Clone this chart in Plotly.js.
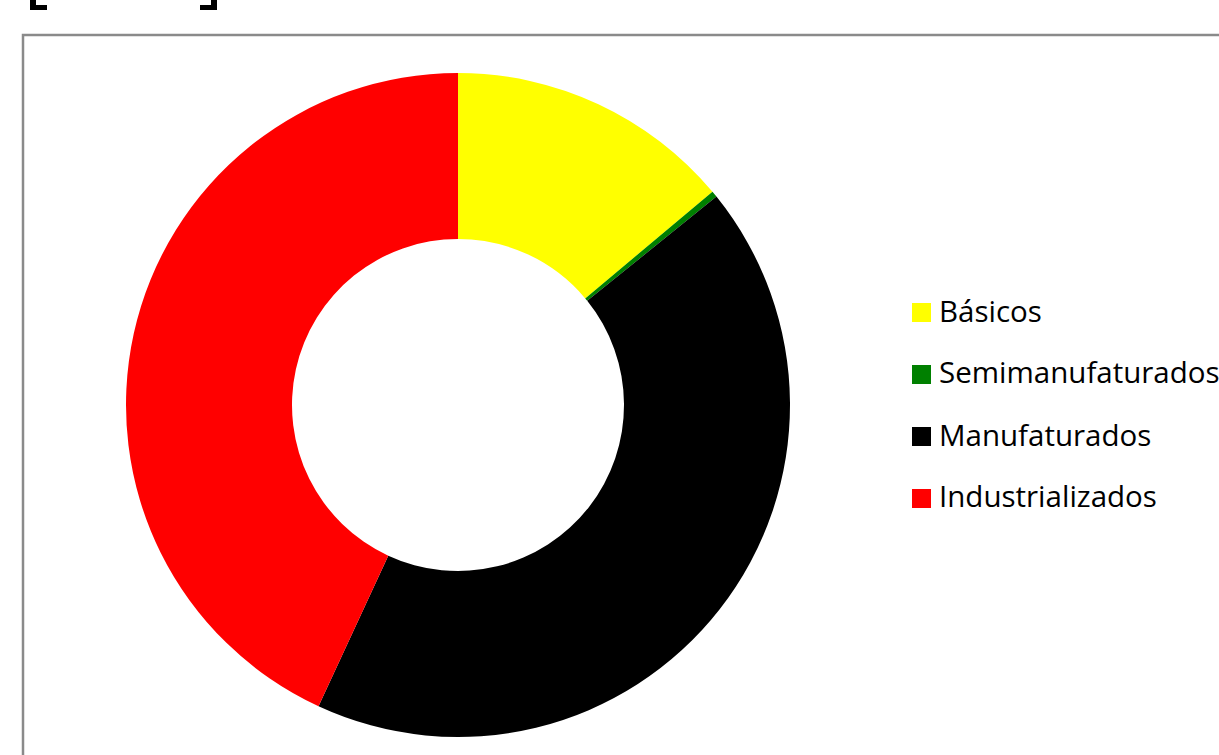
<!DOCTYPE html>
<html>
<head>
<meta charset="utf-8">
<script src="https://cdn.plot.ly/plotly-3.0.1.min.js"></script>
<style>html,body{margin:0;padding:0;background:#fff;}#chart{width:1219px;height:755px;}</style>
</head>
<body>
<div id="chart"></div>
<script>
const categories = ["Básicos", "Semimanufaturados", "Manufaturados", "Industrializados"];
const values = [13.9, 0.3, 42.7, 43.1];
const colors = ["#FFFF00", "#008000", "#000000", "#FF0000"];

const W = 1219, H = 755;
const px = x => x / W;
const py = y => 1 - y / H;

const legendTop = 312, legendStep = 62;
const annotations = categories.map((c, i) => ({
  text: c, xref: "paper", yref: "paper",
  x: px(937), y: py(legendTop - 2 + i * legendStep),
  xanchor: "left", yanchor: "middle", showarrow: false,
  font: {family: "Open Sans, sans-serif", size: 29.5, color: "#000"}
}));
const shapes = categories.map((c, i) => ({
  type: "rect", xref: "paper", yref: "paper",
  x0: px(912), x1: px(931),
  y0: py(legendTop + i * legendStep + 10), y1: py(legendTop + i * legendStep - 9),
  fillcolor: colors[i], line: {width: 0}
}));
shapes.push({type: "rect", xref: "paper", yref: "paper",
  x0: px(23), x1: px(1240), y0: py(780), y1: py(35),
  line: {color: "#8a8a8a", width: 2.5}, fillcolor: "rgba(0,0,0,0)"});
shapes.push({type: "path", xref: "paper", yref: "paper",
  path: `M ${px(30)} ${py(-2)} L ${px(36)} ${py(-2)} L ${px(36)} ${py(5)} L ${px(47)} ${py(5)} L ${px(47)} ${py(10)} L ${px(30)} ${py(10)} Z`,
  fillcolor: "#000", line: {width: 0}});
shapes.push({type: "path", xref: "paper", yref: "paper",
  path: `M ${px(211)} ${py(-2)} L ${px(217)} ${py(-2)} L ${px(217)} ${py(10)} L ${px(200)} ${py(10)} L ${px(200)} ${py(5)} L ${px(211)} ${py(5)} Z`,
  fillcolor: "#000", line: {width: 0}});

const data = [{
  type: "pie", labels: categories, values: values,
  hole: 0.5, sort: false, direction: "clockwise", rotation: 0,
  marker: {colors: colors, line: {width: 0}},
  textinfo: "none", hoverinfo: "label+percent",
  domain: {x: [px(126), px(790)], y: [py(737), py(73)]}
}];
const layout = {
  width: W, height: H, margin: {l: 0, r: 0, t: 0, b: 0},
  paper_bgcolor: "#fff", showlegend: false,
  annotations: annotations, shapes: shapes
};
Plotly.newPlot("chart", data, layout, {displayModeBar: false, staticPlot: true});
</script>
</body>
</html>
